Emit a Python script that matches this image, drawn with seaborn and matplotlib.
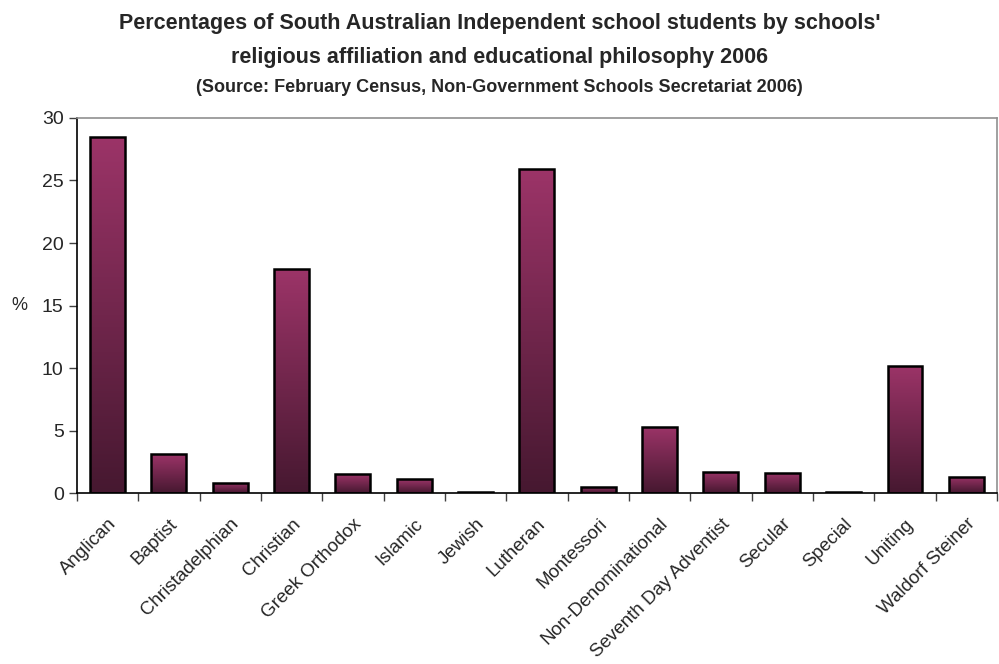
import numpy as np
import pandas as pd
import matplotlib.pyplot as plt
import matplotlib.colors as mcolors
import seaborn as sns

# Dados do gráfico
categorias = ['Anglican', 'Baptist', 'Christadelphian', 'Christian', 'Greek Orthodox',
              'Islamic', 'Jewish', 'Lutheran', 'Montessori', 'Non-Denominational',
              'Seventh Day Adventist', 'Secular', 'Special', 'Uniting', 'Waldorf Steiner']
percentuais = [28.5, 3.1, 0.8, 17.9, 1.5, 1.1, 0.1, 25.9, 0.5, 5.3, 1.7, 1.6, 0.1, 10.2, 1.3]

df = pd.DataFrame({'categoria': categorias, 'pct': percentuais})

sns.set_style('white')
plt.rcParams['font.family'] = ['Liberation Sans', 'DejaVu Sans']

fig = plt.figure(figsize=(9.99, 6.64), dpi=100)
ax = fig.add_axes([0.077, 0.2575, 0.921, 0.5648])

sns.barplot(data=df, x='categoria', y='pct', color='#8B2E5E', width=0.57,
            edgecolor='black', linewidth=1.8, ax=ax)

# Gradiente vertical em cada barra (escuro embaixo, claro em cima)
cmap = mcolors.LinearSegmentedColormap.from_list('grad', ['#461830', '#9C3468'])
grad = np.linspace(0, 1, 256).reshape(-1, 1)
for p in ax.patches:
    x0, y0 = p.get_x(), p.get_y()
    w, h = p.get_width(), p.get_height()
    im = ax.imshow(grad, cmap=cmap, aspect='auto', origin='lower',
                   extent=[x0, x0 + w, y0, y0 + h], zorder=p.get_zorder() - 0.1)
    im.set_clip_path(p)
    p.set_facecolor('none')

ax.set_xlim(-0.5, len(categorias) - 0.5)
ax.set_ylim(0, 30)
ax.set_yticks(range(0, 31, 5))
ax.set_xticks(np.arange(-0.5, len(categorias), 1), minor=True)
ax.tick_params(axis='x', which='major', length=0, pad=16)
ax.tick_params(axis='x', which='minor', length=6, width=1, color='#404040', bottom=True)
ax.tick_params(axis='y', length=6, width=1, color='#404040', left=True, labelsize=14)
ax.set_xticklabels(categorias, rotation=45, ha='right', rotation_mode='anchor', fontsize=13.5)

for s in ['left', 'bottom']:
    ax.spines[s].set_color('black')
    ax.spines[s].set_linewidth(1.2)
for s in ['top', 'right']:
    ax.spines[s].set_color('#909090')
    ax.spines[s].set_linewidth(1.2)

ax.set_xlabel('')
ax.set_ylabel('%', rotation=0, fontsize=13, labelpad=16, va='center')

fig.text(0.5, 0.965, "Percentages of South Australian Independent school students by schools'",
         ha='center', va='center', fontsize=15.5, fontweight='bold')
fig.text(0.5, 0.913, 'religious affiliation and educational philosophy 2006',
         ha='center', va='center', fontsize=15.5, fontweight='bold')
fig.text(0.5, 0.868, '(Source: February Census, Non-Government Schools Secretariat 2006)',
         ha='center', va='center', fontsize=13, fontweight='bold')

fig.savefig('out.png', dpi=100)
